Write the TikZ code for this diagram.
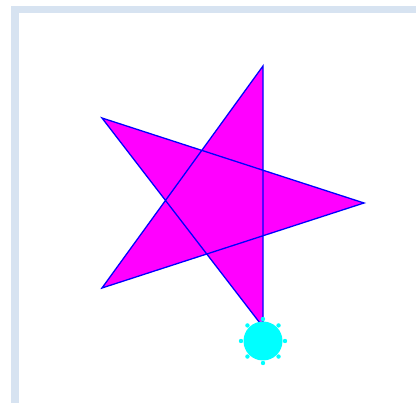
\documentclass[tikz,border=0pt]{standalone}
\usepackage{tikz}
\definecolor{framefill}{HTML}{D7E3F1}
\definecolor{starfill}{HTML}{FF00FF}
\definecolor{starline}{HTML}{0000FF}
\definecolor{handlefill}{HTML}{00FFFF}

\begin{document}
\begin{tikzpicture}[x=1pt, y=-1pt,
  frame/.style={fill=framefill},
  star/.style={fill=starfill, draw=starline, line width=1.3pt, line join=miter, nonzero rule},
  handle/.style={fill=handlefill}]
  \useasboundingbox (0,0) rectangle (416,403);
  \fill[white] (0,0) rectangle (416,403);

  % window edge on the left and on top
  \fill[frame] (11,6) rectangle (416,13);
  \fill[frame] (11,6) rectangle (19,403);

  % star corners
  \coordinate (top) at (263,66);
  \coordinate (right) at (364,203);
  \coordinate (bottom) at (263,327);
  \coordinate (lowleft) at (102,288);
  \coordinate (upleft) at (102,118);

  \draw[star] (top) -- (bottom) -- (upleft) -- (right) -- (lowleft) -- cycle;

  % rotation handle
  \coordinate (knob) at (263,341);
  \fill[handle] (knob) circle (19.5);
  \foreach \a in {0,45,...,315}
    \fill[handle] (knob) ++(\a:22) circle (2.2);
\end{tikzpicture}
\end{document}
